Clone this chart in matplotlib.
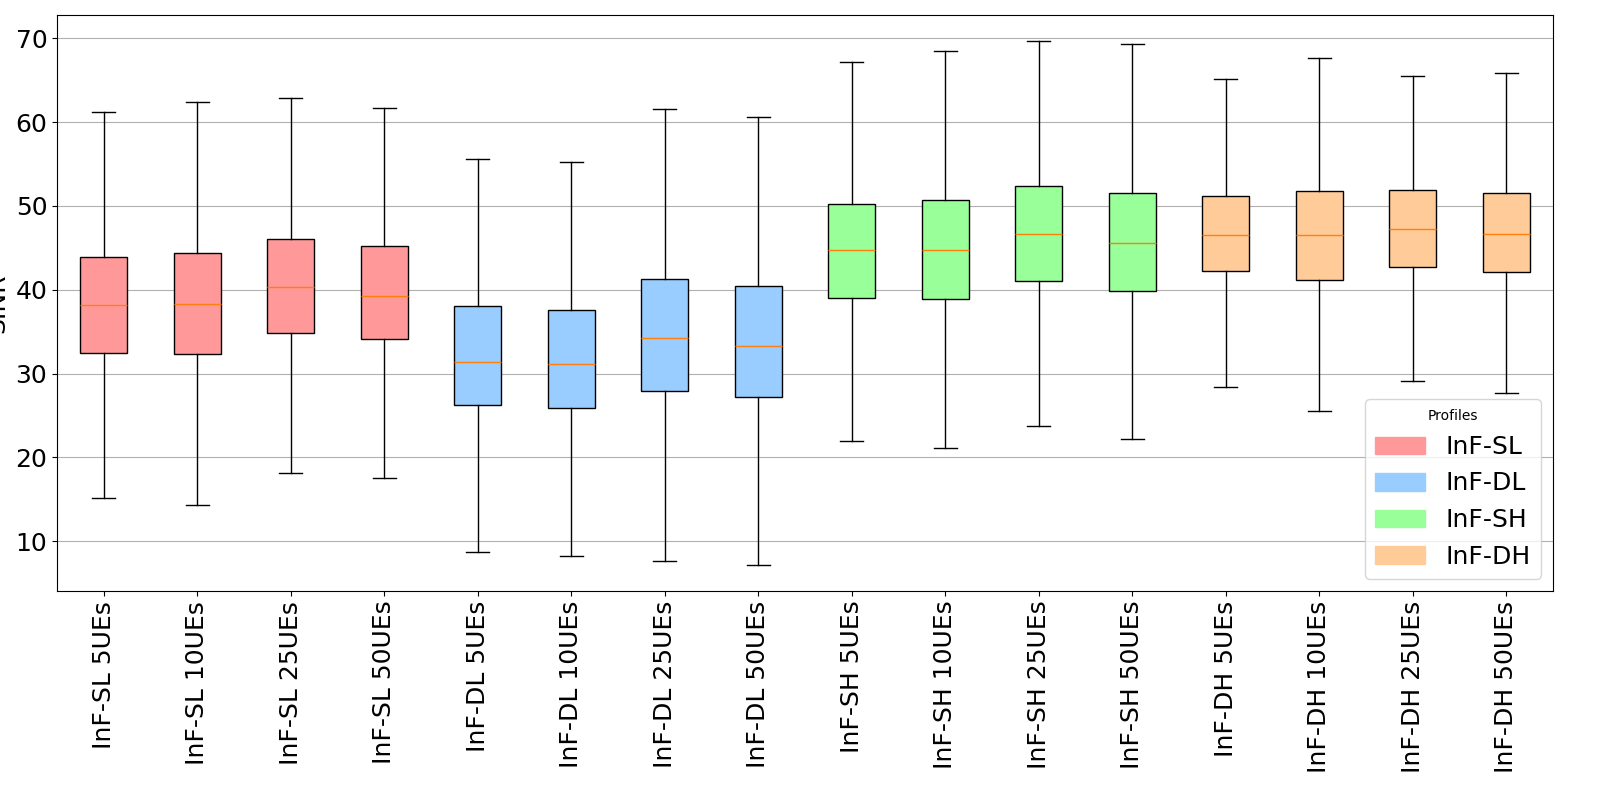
import matplotlib
matplotlib.use("Agg")
import matplotlib.pyplot as plt
from matplotlib.patches import Patch

labels = ["InF-SL 5UEs", "InF-SL 10UEs", "InF-SL 25UEs", "InF-SL 50UEs",
          "InF-DL 5UEs", "InF-DL 10UEs", "InF-DL 25UEs", "InF-DL 50UEs",
          "InF-SH 5UEs", "InF-SH 10UEs", "InF-SH 25UEs", "InF-SH 50UEs",
          "InF-DH 5UEs", "InF-DH 10UEs", "InF-DH 25UEs", "InF-DH 50UEs"]
whislo = [15.2, 14.3, 18.1, 17.5, 8.7, 8.3, 7.7, 7.2,
          22.0, 21.1, 23.8, 22.25, 28.35, 25.5, 29.1, 27.7]
q1 = [32.5, 32.4, 34.9, 34.1, 26.3, 25.9, 27.9, 27.2,
      39.0, 38.9, 41.0, 39.9, 42.2, 41.2, 42.7, 42.1]
med = [38.2, 38.3, 40.3, 39.3, 31.4, 31.2, 34.3, 33.3,
       44.7, 44.7, 46.6, 45.6, 46.5, 46.5, 47.2, 46.6]
q3 = [43.9, 44.35, 46.1, 45.2, 38.1, 37.6, 41.3, 40.5,
      50.2, 50.7, 52.4, 51.6, 51.2, 51.75, 51.9, 51.6]
whishi = [61.2, 62.4, 62.9, 61.7, 55.6, 55.25, 61.6, 60.65,
          67.2, 68.5, 69.65, 69.3, 65.1, 67.6, 65.5, 65.9]
profiles = ["InF-SL", "InF-DL", "InF-SH", "InF-DH"]
colors = ["#ff9999", "#99ccff", "#99ff99", "#ffcc99"]

stats = []
for i in range(len(labels)):
    stats.append(dict(label=labels[i], whislo=whislo[i], q1=q1[i], med=med[i],
                      q3=q3[i], whishi=whishi[i], fliers=[]))

fig = plt.figure(figsize=(16, 8), dpi=100)
ax = fig.add_axes([57/1600, 1-591/800, (1553-57)/1600, (591-15)/800])
bp = ax.bxp(stats, patch_artist=True, showfliers=False)
for i, box in enumerate(bp["boxes"]):
    box.set_facecolor(colors[i // 4])
    box.set_edgecolor("black")

ax.yaxis.grid(True)
ax.set_axisbelow(True)
ax.set_ylabel("SINR", fontsize=18)
ax.tick_params(axis="y", labelsize=18)
ax.set_xticklabels(labels, rotation=90, fontsize=18)

handles = [Patch(color=c, label=p) for p, c in zip(profiles, colors)]
ax.legend(handles=handles, title="Profiles", loc="lower right", fontsize=18)

fig.savefig("out.png", dpi=100)
